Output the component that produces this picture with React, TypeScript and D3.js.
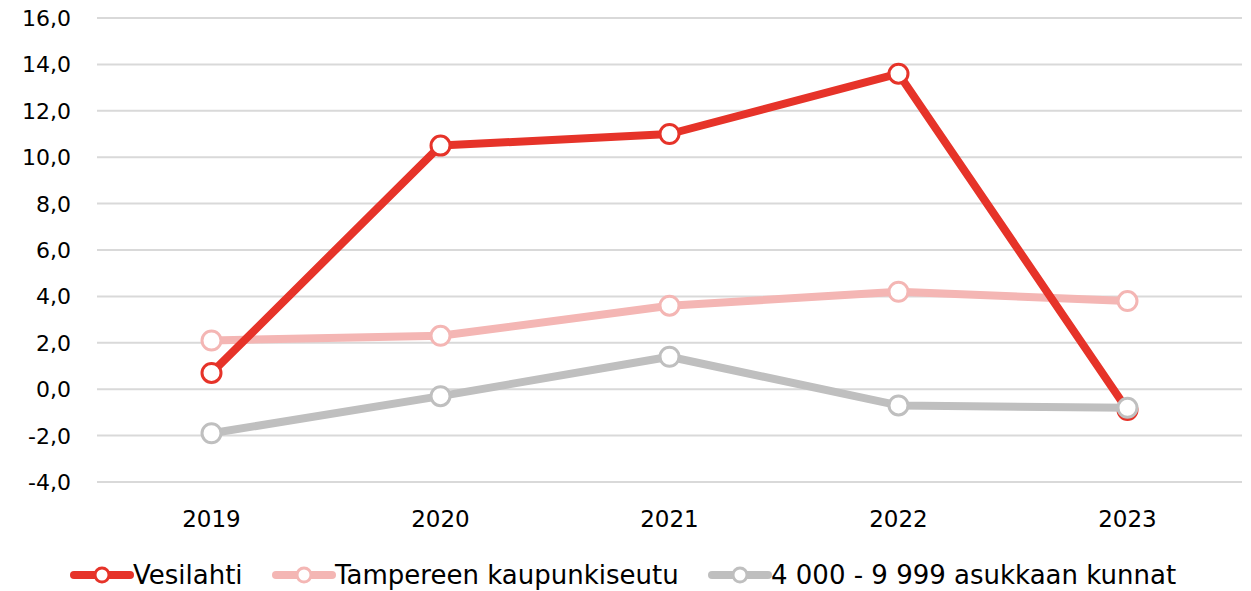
import * as d3 from 'd3';

const years = ['2019', '2020', '2021', '2022', '2023'];
const vesilahti = [0.7, 10.5, 11.0, 13.6, -0.9];
const tampere = [2.1, 2.3, 3.6, 4.2, 3.8];
const kunnat = [-1.9, -0.3, 1.4, -0.7, -0.8];
const yTicks = [-4, -2, 0, 2, 4, 6, 8, 10, 12, 14, 16];

const seriesNames = ['Vesilahti', 'Tampereen kaupunkiseutu', '4 000 - 9 999 asukkaan kunnat'];
const colors = ['#E63329', '#F4B6B4', '#BFBFBF'];

const W = 1251;
const H = 591;
const FONT = "'DejaVu Sans', sans-serif";

export default function App() {
  const x = d3.scaleBand().domain(years).range([97, 1242]);
  const y = d3.scaleLinear().domain([-4, 16]).range([482, 18]);
  const cx = (yr: string) => (x(yr) || 0) + x.bandwidth() / 2;

  const line = d3.line<number>()
    .x((_, i) => cx(years[i]))
    .y((d) => y(d));

  const fmt = (t: number) => d3.format('.1f')(t).replace('.', ',').replace('\u2212', '-');

  const series = [
    { name: seriesNames[0], values: vesilahti, color: colors[0] },
    { name: seriesNames[1], values: tampere, color: colors[1] },
    { name: seriesNames[2], values: kunnat, color: colors[2] },
  ];
  // pink underneath, then red, grey on top
  const drawOrder = [series[1], series[0], series[2]];

  const legend = [
    { s: series[0], x: 74 },
    { s: series[1], x: 276 },
    { s: series[2], x: 712 },
  ];

  return (
    <svg width={W} height={H} style={{ position: 'absolute', left: 0, top: 0 }}>
      <rect width={W} height={H} fill="#fff" />
      {yTicks.map((t) => (
        <g key={t}>
          <line x1={97} x2={1242} y1={y(t)} y2={y(t)} stroke="#D9D9D9" strokeWidth={2} />
          <text x={71} y={y(t)} dy="0.36em" textAnchor="end" fontFamily={FONT} fontSize={22} fill="#000">
            {fmt(t)}
          </text>
        </g>
      ))}
      {years.map((yr) => (
        <text key={yr} x={cx(yr)} y={527} textAnchor="middle" fontFamily={FONT} fontSize={23} fill="#000">
          {yr}
        </text>
      ))}
      {drawOrder.map((s) => (
        <g key={s.name}>
          <path d={line(s.values) || ''} fill="none" stroke={s.color} strokeWidth={8} strokeLinejoin="round" />
          {s.values.map((v, i) => (
            <circle key={i} cx={cx(years[i])} cy={y(v)} r={9.5} fill="#fff" stroke={s.color} strokeWidth={3} />
          ))}
        </g>
      ))}
      {legend.map(({ s, x: lx }) => (
        <g key={s.name}>
          <line x1={lx} x2={lx + 56} y1={575} y2={575} stroke={s.color} strokeWidth={8} strokeLinecap="round" />
          <circle cx={lx + 28} cy={575} r={7} fill="#fff" stroke={s.color} strokeWidth={3} />
          <text x={lx + 59} y={575} dy="0.36em" fontFamily={FONT} fontSize={26} fill="#000">
            {s.name}
          </text>
        </g>
      ))}
    </svg>
  );
}
